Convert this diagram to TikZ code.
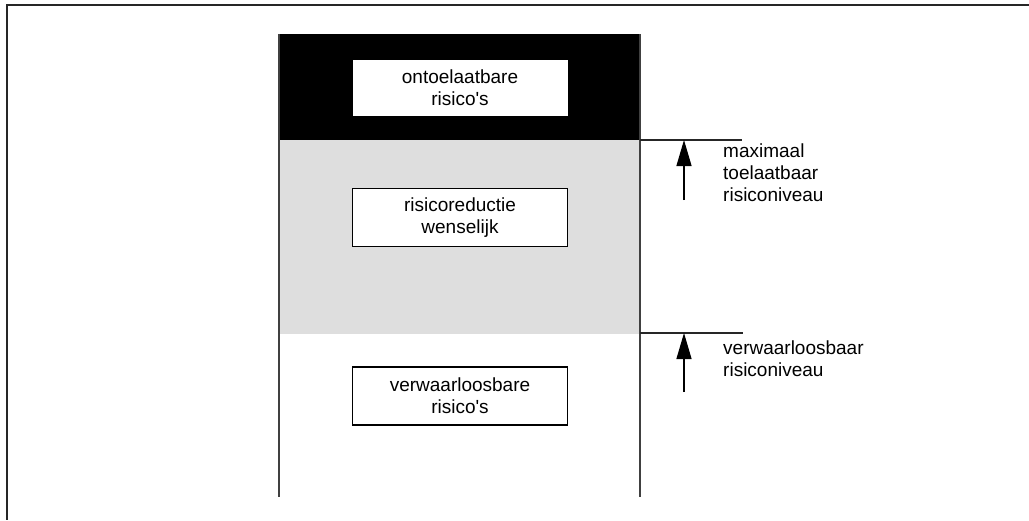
\documentclass[tikz,border=0pt]{standalone}
\usepackage{fontspec}
\setmainfont{Liberation Sans}[Ligatures=TeXOff]
\usetikzlibrary{arrows.meta}
\begin{document}
\begin{tikzpicture}[x=1pt,y=-1pt,
  every node/.style={font=\fontsize{19}{22}\selectfont},
  riskbox/.style={draw=black, line width=1.3pt, fill=white, align=center,
    minimum width=215pt, minimum height=58pt, inner sep=0pt},
  lvlline/.style={line width=1.3pt, black!85},
  lvlarrow/.style={line width=1.3pt, -{Triangle[length=26pt,width=15pt]}},
  lbl/.style={anchor=west, align=left, inner sep=0pt}]
\useasboundingbox (0,0) rectangle (1029,520);
% outer frame
\draw[line width=2pt, black!85] (1029,4.5) -- (6.5,4.5) -- (6.5,520);
% zones
\fill[black] (278,34) rectangle (640,140);
\fill[black!13] (278,140) rectangle (640,334);
\draw[line width=2pt, black!75] (278.5,34) -- (278.5,497);
\draw[line width=2pt, black!75] (639.5,34) -- (639.5,497);
% boxes
\node[riskbox, draw=none, minimum height=56pt] (onto) at (460,88) {ontoelaatbare\\risico's};
\node[riskbox] (reduc) at (460,217.5) {risicoreductie\\wenselijk};
\node[riskbox] (verw) at (460,396) {verwaarloosbare\\risico's};
% level 1
\coordinate (m0) at (640,140);
\coordinate (m1) at (742,140);
\coordinate (mtop) at (684,140);
\coordinate (mbot) at (684,200);
\draw[lvlline] (m0) -- (m1);
\draw[lvlarrow] (mbot) -- (mtop);
\node[lbl] (mtxt) at (723,173) {maximaal\\toelaatbaar\\risiconiveau};
% level 2
\coordinate (v0) at (640,333);
\coordinate (v1) at (743,333);
\coordinate (vtop) at (684,333);
\coordinate (vbot) at (684,392);
\draw[lvlline] (v0) -- (v1);
\draw[lvlarrow] (vbot) -- (vtop);
\node[lbl] (vtxt) at (723,359) {verwaarloosbaar\\risiconiveau};
\end{tikzpicture}
\end{document}
